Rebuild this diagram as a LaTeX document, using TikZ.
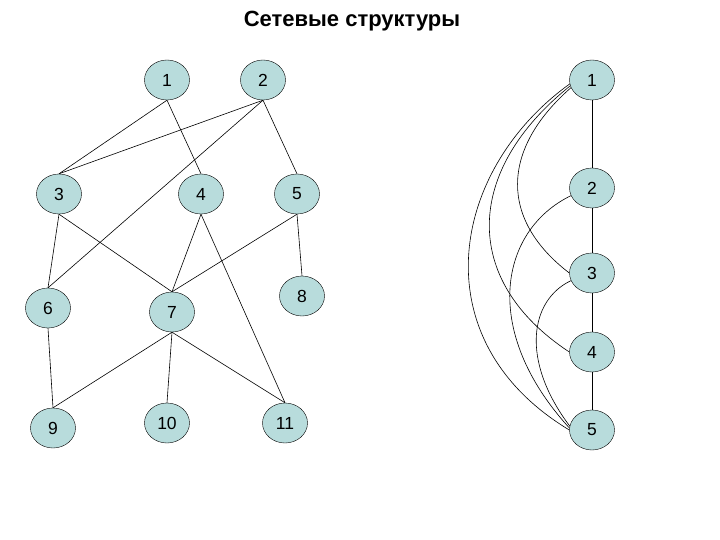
\documentclass[tikz,border=0pt]{standalone}
\usepackage{fontspec}
\setmainfont{Liberation Sans}
\usetikzlibrary{shapes.geometric}
\definecolor{nfill}{HTML}{B8DCDC}
\begin{document}
\begin{tikzpicture}[x=1pt,y=-1pt,
  nd/.style={ellipse,draw=black,fill=nfill,minimum width=45pt,minimum height=40pt,inner sep=0pt,font=\fontsize{17.5}{20}\selectfont},
  ed/.style={draw=black,line width=0.6pt}]
\useasboundingbox (0,0) rectangle (720,540);
\node[font=\fontsize{22}{26}\selectfont\bfseries] (title) at (352,21) {Сетевые структуры};
\node[nd] (a1) at (167,80) {1};
\node[nd] (a2) at (263,80) {2};
\node[nd] (a3) at (59,194) {3};
\node[nd] (a4) at (201,194) {4};
\node[nd] (a5) at (297,194) {5};
\node[nd] (a6) at (48,308) {6};
\node[nd] (a7) at (172,312) {7};
\node[nd] (a8) at (302,296) {8};
\node[nd] (a9) at (53,428) {9};
\node[nd] (a10) at (167,423) {10};
\node[nd] (a11) at (285,423) {11};
\foreach \u/\v in {a1/a3,a1/a4,a2/a3,a2/a6,a2/a5,a3/a6,a3/a7,a4/a7,a4/a11,a5/a7,a5/a8,a6/a9,a7/a9,a7/a10,a7/a11}
  \draw[ed] (\u.south) -- (\v.north);
\node[nd] (b1) at (592,80) {1};
\node[nd] (b2) at (592,188) {2};
\node[nd] (b3) at (592,273) {3};
\node[nd] (b4) at (592,352) {4};
\node[nd] (b5) at (592,430) {5};
\draw[ed] (b1) -- (b2) -- (b3) -- (b4) -- (b5);
\draw[ed] (b1.190) .. controls (450,170) and (420,340) .. (b5.180);
\draw[ed] (b1.195) .. controls (465,170) and (460,280) .. (b4.180);
\draw[ed] (b1.200) .. controls (500,150) and (500,220) .. (b3.180);
\draw[ed] (b2.200) .. controls (500,230) and (480,330) .. (b5.175);
\draw[ed] (b3.200) .. controls (530,300) and (520,360) .. (b5.170);
\end{tikzpicture}
\end{document}
